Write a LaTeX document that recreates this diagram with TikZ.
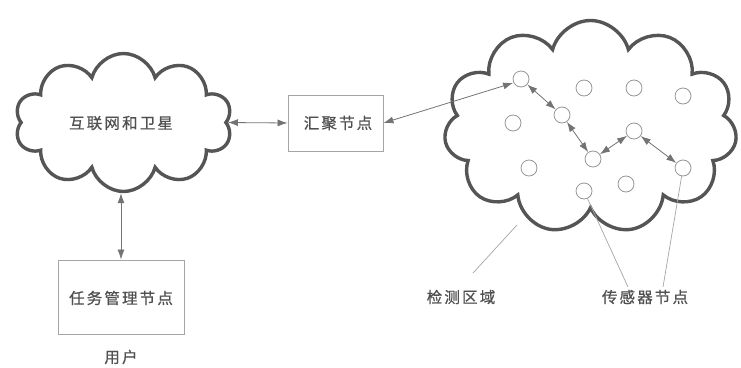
\documentclass[tikz,border=0pt]{standalone}
\usepackage{fontspec}
\setmainfont{Noto Sans CJK SC}[FakeBold=0.7]
\usetikzlibrary{shapes.symbols,arrows.meta}
\definecolor{cloudc}{RGB}{85,85,85}
\definecolor{boxc}{RGB}{165,165,165}
\definecolor{txtc}{RGB}{80,80,80}
\definecolor{linec}{RGB}{115,115,115}
\definecolor{circc}{RGB}{150,150,150}
\tikzset{
  cloudshape/.style={cloud, cloud ignores aspect, draw=cloudc, line width=3.4pt, inner sep=0pt},
  boxnode/.style={draw=boxc, line width=0.9pt, inner sep=0pt, text=txtc},
  lbl/.style={text=txtc, inner sep=0pt, font=\fontsize{15.5}{17}\selectfont\addfontfeature{LetterSpace=14}},
  sensor/.style={circle, draw=circc, line width=0.8pt, minimum size=16pt, inner sep=0pt},
  biarrow/.style={linec, line width=0.8pt, {Latex[length=10pt,width=7pt]}-{Latex[length=10pt,width=7pt]}},
  leader/.style={draw=boxc, line width=0.7pt}
}
\begin{document}
\begin{tikzpicture}[x=1pt,y=-1pt]
\useasboundingbox (0,0) rectangle (741,367);
% clouds
\node[cloudshape, cloud puffs=10, minimum width=217pt, minimum height=138pt] (lcloud) at (123.5,122.5) {};
\node[lbl] (ltext) at (121,123) {互联网和卫星};
\node[cloudshape, cloud puffs=11, minimum width=293pt, minimum height=213pt] (rcloud) at (590.5,127) {};
% boxes
\node[boxnode, minimum width=95pt, minimum height=56pt] (hub) at (335.5,123) {};
\node[lbl] (hubtext) at (338,123) {汇聚节点};
\node[boxnode, minimum width=126pt, minimum height=74pt] (task) at (121,297) {};
\node[lbl] (tasktext) at (121,298) {任务管理节点};
\node[lbl] (user) at (121,357) {用户};
% sensors
\node[sensor] (s1) at (521,79) {};
\node[sensor] (s2) at (584,88) {};
\node[sensor] (s3) at (634,88) {};
\node[sensor] (s4) at (683,96) {};
\node[sensor] (s5) at (513,123) {};
\node[sensor] (s6) at (562,115) {};
\node[sensor] (s7) at (634,131) {};
\node[sensor] (s8) at (593,159) {};
\node[sensor] (s9) at (683,168) {};
\node[sensor] (s10) at (529,168) {};
\node[sensor] (s11) at (626,184) {};
\node[sensor] (s12) at (584,191) {};
% connectors
\draw[biarrow] (lcloud.east) -- (hub.west);
\draw[biarrow] (task.north) -- (task.north |- lcloud.south);
\draw[biarrow] (hub.east) -- ([xshift=-2pt,yshift=2pt]s1.south west);
\draw[biarrow] (s1) -- (s6);
\draw[biarrow] (s6) -- (s8);
\draw[biarrow] (s8) -- (s7);
\draw[biarrow] (s7) -- (s9);
% labels and leaders
\node[lbl] (area) at (461,297) {检测区域};
\node[lbl] (sens) at (645,297) {传感器节点};
\coordinate (areaA) at (473,273);
\coordinate (areaB) at (517,225);
\draw[leader] (areaA) -- (areaB);
\coordinate (sensA) at (628,287);
\coordinate (sensB) at (663,287);
\draw[leader] (sensA) -- (s12);
\draw[leader] (sensB) -- (s9);
\end{tikzpicture}
\end{document}
